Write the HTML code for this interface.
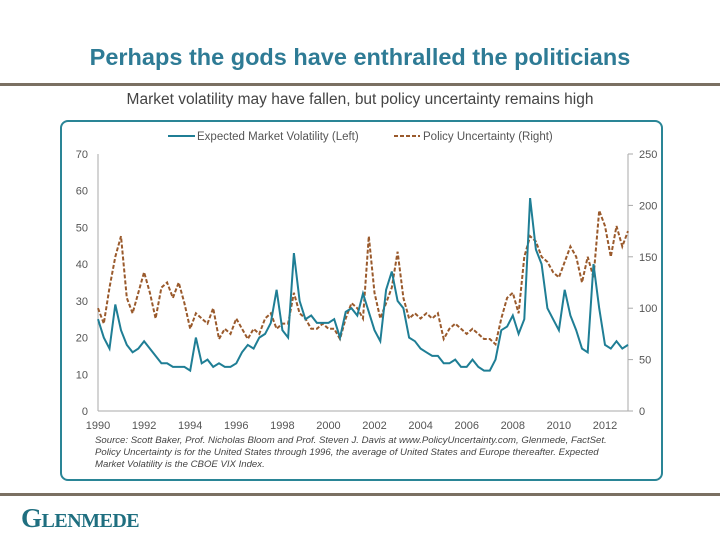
<!DOCTYPE html>
<html><head><meta charset="utf-8"><style>
body{margin:0;width:720px;height:540px;background:#fff;position:relative;overflow:hidden;font-family:"Liberation Sans",sans-serif}
#title{position:absolute;left:0;width:720px;top:44px;text-align:center;font-size:23.5px;font-weight:bold;color:#2e7b95}
#rule1{position:absolute;left:0;top:83px;width:720px;height:3px;background:#7a7062}
#sub{position:absolute;left:0;width:720px;top:91px;text-align:center;font-size:15.5px;color:#444}
#box{position:absolute;left:60px;top:120px;width:599px;height:357px;border:2px solid #2a8596;border-radius:8px}
#rule2{position:absolute;left:0;top:493px;width:720px;height:3px;background:#7a7062}
#logo{position:absolute;left:21px;top:503px;font-family:"Liberation Serif",serif;font-weight:bold;font-size:27px;color:#1f6f80;letter-spacing:-0.5px}
svg{position:absolute;left:0;top:0}
</style></head><body>
<div id="title">Perhaps the gods have enthralled the politicians</div>
<div id="rule1"></div>
<div id="sub">Market volatility may have fallen, but policy uncertainty remains high</div>
<div id="box"></div>
<svg id="chart" width="720" height="540"></svg>
<div id="rule2"></div>
<div id="logo">G<span style="font-size:20px">LENMEDE</span></div>
<script>
const years=[1990,1992,1994,1996,1998,2000,2002,2004,2006,2008,2010,2012];
const leftTicks=[0,10,20,30,40,50,60,70];
const rightTicks=[0,50,100,150,200,250];
const vix=[25,20,17,29, 22,18,16,17, 19,17,15,13, 13,12,12,12, 11,20,13,14, 12,13,12,12, 13,16,18,17, 20,21,24,33, 22,20,43,30, 25,26,24,24, 24,25,20,27, 28,26,32,27, 22,19,33,38, 30,28,20,19, 17,16,15,15, 13,13,14,12, 12,14,12,11, 11,14,22,23, 26,21,25,58, 44,40,28,25, 22,33,26,22, 17,16,40,28, 18,17,19,17,18];
const epu=[100,85,120,150, 170,110,95,115, 135,115,90,120, 125,110,125,105, 80,95,90,85, 100,70,80,75, 90,80,70,80, 75,90,95,80, 85,85,115,95, 90,80,80,85, 80,80,70,90, 105,100,90,170, 115,90,105,120, 155,110,90,95, 90,95,90,95, 70,80,85,80, 75,80,75,70, 70,65,90,110, 115,95,150,170, 165,150,145,135, 130,145,160,150, 125,150,130,195, 180,150,180,160,175];
const NS='http://www.w3.org/2000/svg',svg=document.getElementById('chart');
const x0=98,x1=605,yb=411,yt=154,xr=628;
const xs=t=>x0+(t-1990)*(x1-x0)/22;
const yl=v=>yb-v*(yb-yt)/70;
const yr=v=>yb-v*(yb-yt)/250;
function mk(tag,at){const e=document.createElementNS(NS,tag);for(const k in at)e.setAttribute(k,at[k]);svg.appendChild(e);return e;}
let e;
e=mk('line',{x1:x0,y1:yt,x2:x0,y2:yb,stroke:'#aaa'});

e=mk('line',{x1:xr,y1:yt,x2:xr,y2:yb,stroke:'#aaa'});

e=mk('line',{x1:x0,y1:yb,x2:xr,y2:yb,stroke:'#aaa'});

leftTicks.forEach(v=>{e=mk('text',{x:88,y:yl(v)+4,'text-anchor':'end','font-size':11,fill:'#555'});e.textContent=v;
});
rightTicks.forEach(v=>{mk('line',{x1:xr,x2:xr+5,y1:yr(v),y2:yr(v),stroke:'#aaa'});e=mk('text',{x:639,y:yr(v)+4,'text-anchor':'start','font-size':11,fill:'#555'});e.textContent=v;
});
years.forEach(v=>{e=mk('text',{x:xs(v),y:429,'text-anchor':'middle','font-size':11,fill:'#555'});e.textContent=v;
});
function path(arr,fy){return arr.map((v,i)=>(i?'L':'M')+xs(1990+i*0.25).toFixed(1)+','+fy(v).toFixed(1)).join('');}
e=mk('path',{d:path(epu,yr),fill:'none',stroke:'#9a5a2c','stroke-width':2,'stroke-dasharray':'4,2'});

e=mk('path',{d:path(vix,yl),fill:'none',stroke:'#1f7e95','stroke-width':2});

mk('line',{x1:168,x2:195,y1:136,y2:136,stroke:'#1f7e95','stroke-width':2});
e=mk('text',{x:197,y:140,'font-size':11.5,fill:'#555'});e.textContent='Expected Market Volatility (Left)';

mk('line',{x1:394,x2:420,y1:136,y2:136,stroke:'#9a5a2c','stroke-width':2,'stroke-dasharray':'4,2'});
e=mk('text',{x:423,y:140,'font-size':11.5,fill:'#555'});e.textContent='Policy Uncertainty (Right)';

const notes=['Source: Scott Baker, Prof. Nicholas Bloom and Prof. Steven J. Davis at www.PolicyUncertainty.com, Glenmede, FactSet.','Policy Uncertainty is for the United States through 1996, the average of United States and Europe thereafter. Expected','Market Volatility is the CBOE VIX Index.'];
notes.forEach((s,i)=>{e=mk('text',{x:95,y:443+i*12,'font-size':9.6,'font-style':'italic',fill:'#444'});e.textContent=s;
});
</script>
</body></html>
